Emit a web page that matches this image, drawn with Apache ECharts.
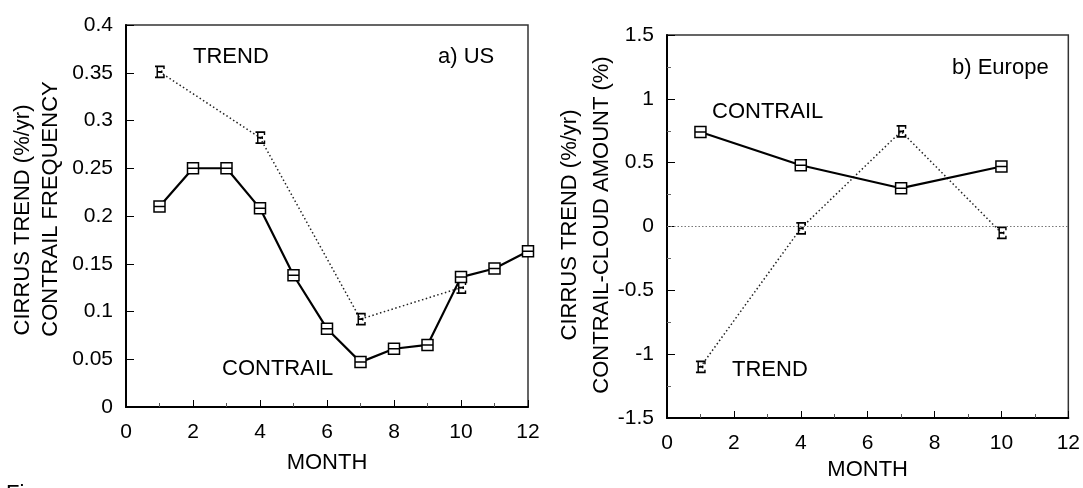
<!DOCTYPE html>
<html>
<head>
<meta charset="utf-8">
<script src="https://cdn.jsdelivr.net/npm/echarts@6/dist/echarts.min.js"></script>
<style>html,body{margin:0;padding:0;background:#fff;}#c{width:1083px;height:488px;}</style>
</head>
<body>
<div id="c"></div>
<script>
// ---- data ----
const usContrailMonths = [1,2,3,4,5,6,7,8,9,10,11,12];
const usContrailValues = [0.21,0.25,0.25,0.208,0.138,0.082,0.047,0.061,0.065,0.136,0.145,0.163];
const usTrendMonths = [1,4,7,10];
const usTrendValues = [0.351,0.282,0.092,0.125];
const euContrailMonths = [1,4,7,10];
const euContrailValues = [0.74,0.48,0.30,0.47];
const euTrendMonths = [1,4,7,10];
const euTrendValues = [-1.10,-0.015,0.745,-0.05];
const usYTicks = {min:0, max:0.4, interval:0.05};
const euYTicks = {min:-1.5, max:1.5, interval:0.5};
const monthTicks = {min:0, max:12, interval:2};

function pairs(xs, ys){ return xs.map((x,i)=>[x, ys[i]]); }

const FONT = 'Liberation Sans';
const symB = 'path://M0,0 L10,0 L10,10 L0,10 Z M0,5 L10,5';
const symE = 'path://M0,0 L8,0 L8,2.5 M2,0 L2,10 M0,10 L8,10 L8,7.5 M2,5 L6,5 M6,3.8 L6,6.2';

function xAxisCfg(gridIndex, nameGap){
  return {
    type:'value', gridIndex, min:monthTicks.min, max:monthTicks.max, interval:monthTicks.interval,
    name:'MONTH', nameLocation:'middle', nameGap,
    nameTextStyle:{fontFamily:FONT, fontSize:22, color:'#000'},
    axisLine:{show:true, onZero:false, lineStyle:{color:'#000', width:2}},
    axisTick:{show:true, inside:true, length:7, lineStyle:{color:'#000', width:1}},
    minorTick:{show:true, splitNumber:2, length:4, lineStyle:{color:'#555', width:1}},
    axisLabel:{margin:15, fontFamily:FONT, fontSize:21, color:'#000'},
    splitLine:{show:false}
  };
}
function yAxisCfg(gridIndex, t){
  return {
    type:'value', gridIndex, min:t.min, max:t.max, interval:t.interval,
    axisLine:{show:true, onZero:false, lineStyle:{color:'#000', width:2}},
    axisTick:{show:true, inside:true, length:8, lineStyle:{color:'#000', width:1}},
    minorTick:{show: gridIndex===1, splitNumber:2, length:4, lineStyle:{color:'#666', width:1}},
    axisLabel:{margin:13, fontFamily:FONT, fontSize:21, color:'#000'},
    splitLine:{show:false}
  };
}
function contrailSeries(xi, data){
  return {type:'line', xAxisIndex:xi, yAxisIndex:xi, data, symbol:symB, symbolSize:[11,11],
    lineStyle:{color:'#000', width:2.2, type:'solid'},
    itemStyle:{color:'#fff', borderColor:'#000', borderWidth:1.5}, z:3, animation:false};
}
function trendSeries(xi, data, extra){
  return Object.assign({type:'line', xAxisIndex:xi, yAxisIndex:xi, data, symbol:symE, symbolSize:[9,11],
    lineStyle:{color:'#222', width:1.5, type:[1.5,2.5]},
    itemStyle:{color:'rgba(255,255,255,0)', borderColor:'#000', borderWidth:1.6}, z:2, animation:false}, extra||{});
}

const chart = echarts.init(document.getElementById('c'), null, {renderer:'canvas'});
const txt = (x,y,text,opts)=>Object.assign({type:'text', x, y, style:Object.assign({text, fontFamily:FONT, fontSize:22, fill:'#000', align:'left', verticalAlign:'middle'}, opts||{})});
const rot = (x,y,text)=>({type:'text', x, y, rotation:Math.PI/2,
  style:{text, fontFamily:FONT, fontSize:22, fill:'#000', align:'center', verticalAlign:'middle'}});

chart.setOption({
  backgroundColor:'#fff',
  animation:false,
  grid:[
    {left:126, right:555, top:25, bottom:81, show:true, borderColor:'#333', borderWidth:1.5},
    {left:667, right:11, top:35, bottom:70, show:true, borderColor:'#333', borderWidth:1.5}
  ],
  xAxis:[xAxisCfg(0,45), xAxisCfg(1,39)],
  yAxis:[yAxisCfg(0,usYTicks), yAxisCfg(1,euYTicks)],
  series:[
    trendSeries(0, pairs(usTrendMonths, usTrendValues)),
    contrailSeries(0, pairs(usContrailMonths, usContrailValues)),
    trendSeries(1, pairs(euTrendMonths, euTrendValues), {
      markLine:{silent:true, symbol:['none','none'], label:{show:false},
        lineStyle:{color:'#777', width:1.2, type:[1.5,2]}, data:[{yAxis:0}]}
    }),
    contrailSeries(1, pairs(euContrailMonths, euContrailValues))
  ],
  graphic:[
    txt(193,57,'TREND'),
    txt(438,57,'a) US'),
    txt(222,369,'CONTRAIL'),
    txt(952,68,'b) Europe'),
    txt(712,112,'CONTRAIL'),
    txt(732,370,'TREND'),
    rot(23,220,'CIRRUS TREND (%/yr)'),
    rot(51,209,'CONTRAIL FREQUENCY'),
    rot(570,225,'CIRRUS TREND (%/yr)'),
    rot(602,225,'CONTRAIL-CLOUD AMOUNT (%)'),
    txt(6,494,'Fi',{fontSize:22})
  ]
});
</script>
</body>
</html>
